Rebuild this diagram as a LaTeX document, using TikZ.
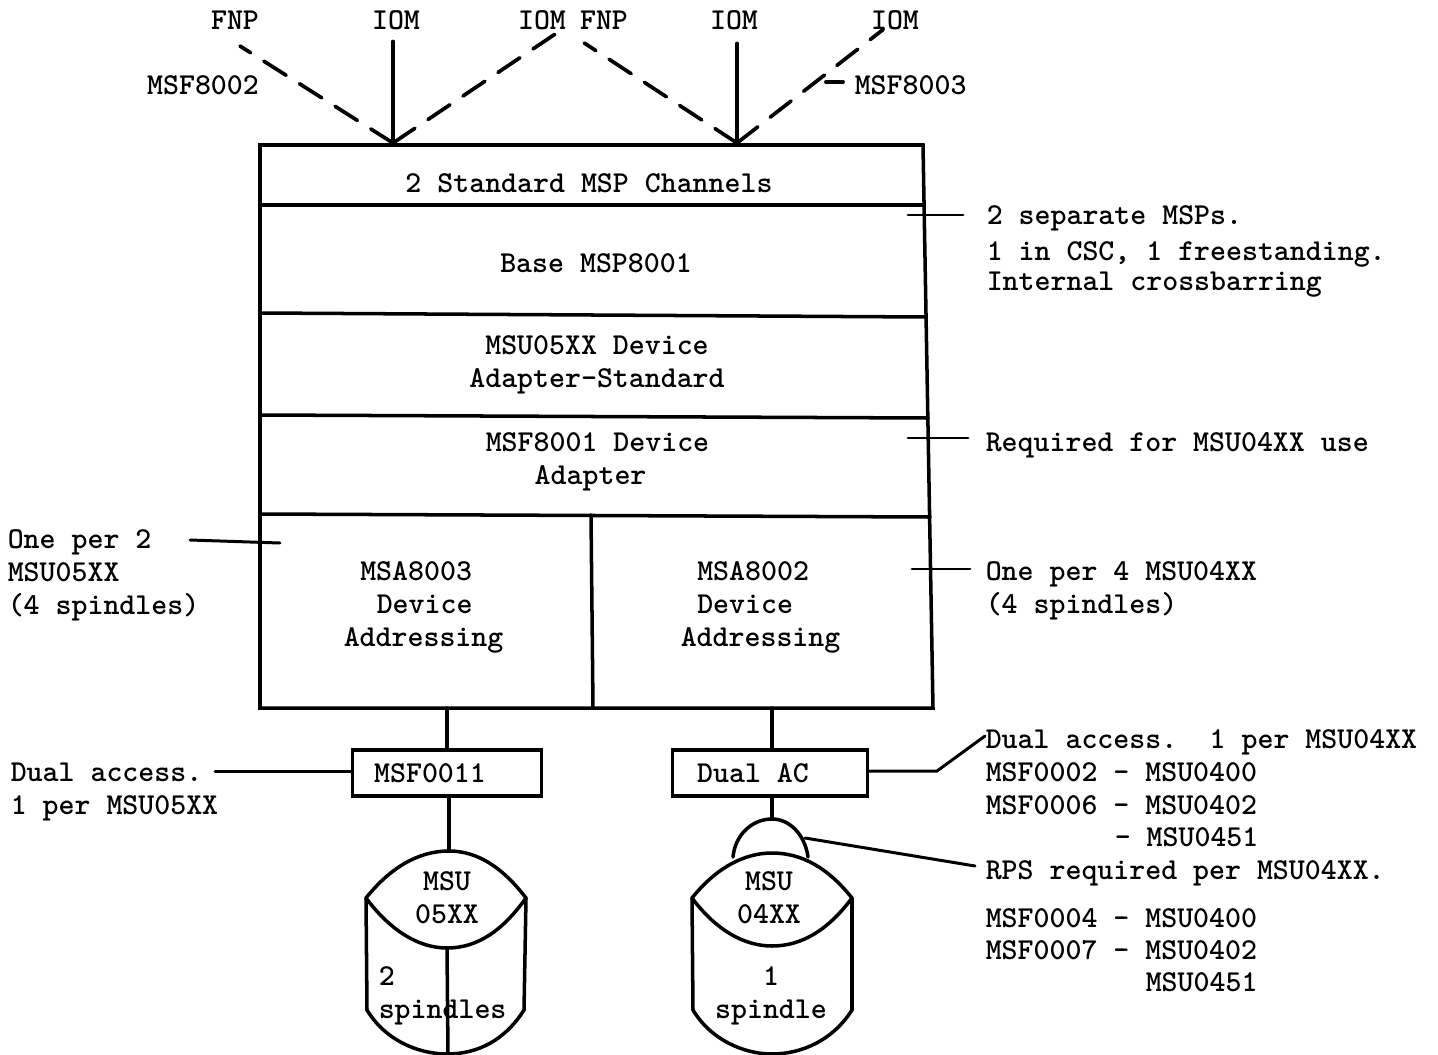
\documentclass[tikz,border=0pt]{standalone}
\usepackage{tikz}

\begin{document}
\begin{tikzpicture}[x=0.02cm, y=0.02cm, line width=2pt, line cap=round,
    txt/.style={font=\fontsize{17.3}{18.8}\selectfont\ttfamily\bfseries},
    lefttxt/.style={txt, anchor=west, align=left},
    devbox/.style={txt, draw, minimum height=0.92cm},
    feed/.style={dash pattern=on 15pt off 9pt, line width=2.1pt},
    leader/.style={line width=1.7pt}]
\tikzstyle{every node}+=[inner sep=0pt]
\useasboundingbox (0,0) rectangle (1438,-1055);
% top labels
\node [txt] (fnpa) at (235,-20) {FNP};
\node [txt] (ioma) at (396,-20) {IOM};
\node [txt] (iomb) at (542,-20) {IOM};
\node [txt] (fnpb) at (604,-20) {FNP};
\node [txt] (iomc) at (734,-20) {IOM};
\node [txt] (iomd) at (895,-20) {IOM};
\node [txt] (msfa) at (203,-85) {MSF8002};
\node [lefttxt] (msfb) at (853,-85) {MSF8003};
% main box
\coordinate (tl) at (260,-145);
\coordinate (tr) at (923,-145);
\coordinate (bl) at (260,-708);
\coordinate (br) at (933,-708);
\coordinate (tipa) at (393,-143);
\coordinate (tipb) at (737,-143);
\draw (tl) -- (tr) -- (br) -- (bl) -- cycle;
\draw (260,-205) -- (924,-205);
\draw (260,-313) -- (926,-317);
\draw (260,-415) -- (928,-418);
\draw (260,-514) -- (930,-517);
\draw (591,-515) -- (593,-708);
\node [txt] (chan) at (589,-183) {2 Standard MSP Channels};
\node [txt] (base) at (596,-263) {Base MSP8001};
\node [txt, align=center] (msu) at (597,-365) {MSU05XX Device\\Adapter-Standard};
\node [lefttxt] (adpt) at (484,-462) {MSF8001 Device\\\hspace*{.98cm}Adapter};
\node [lefttxt] (msaa) at (342,-607) {\hspace*{.33cm}MSA8003\\\hspace*{.66cm}Device\\Addressing};
\node [lefttxt] (msab) at (679,-607) {\hspace*{.33cm}MSA8002\\\hspace*{.33cm}Device\\Addressing};
% incoming lines
\draw [feed] (tipa) -- ([shift={(5,-15)}]fnpa.south);
\draw (ioma.south) ++(-3,-10) -- (tipa);
\draw [feed] (tipa) -- ([shift={(-13,-3)}]iomb.south east);
\draw [feed] (tipb) -- ([shift={(6,-12)}]fnpb.south west);
\draw (iomc.south) ++(3,-12) -- (tipb);
\draw [feed] (tipb) -- ([shift={(14,2)}]iomd.south west);
\draw [line width=2.2pt] (msfb.west) ++(-27,3) -- ++(17,0);
% notes right
\node [lefttxt] (twoa) at (985,-218) {2 separate MSPs.};
\node [lefttxt] (twob) at (985,-254) {1 in CSC, 1 freestanding.};
\node [lefttxt] (twoc) at (985,-285) {Internal crossbarring};
\node [lefttxt] (reqd) at (984,-445) {Required for MSU04XX use};
\node [lefttxt] (onefour) at (984,-591) {One per 4 MSU04XX\\(4 spindles)};
\node [lefttxt] (onetwo) at (6,-575) {One per 2\\MSU05XX\\(4 spindles)};
\node [lefttxt] (dualc) at (9,-792) {Dual access.\\1 per MSU05XX};
\coordinate (ca) at (908,-215);
\coordinate (cb) at (908,-438);
\coordinate (cc) at (912,-569);
\coordinate (cd) at (280,-543);
\draw [leader] (ca) -- (963,-215);
\draw [leader] (cb) -- (968,-438);
\draw [leader] (cc) -- (970,-569);
\draw [leader] (190,-540) -- (cd);
% device boxes
\node [devbox, minimum width=3.78cm] (msfbox) at (447,-773) {MSF0011\hspace{.68cm}\null};
\node [devbox, minimum width=3.9cm] (dualbox) at (770,-773) {Dual AC\hspace{.68cm}\null};
\coordinate (topa) at (449,-851);
\coordinate (topb) at (772,-819);
\draw (447,-708) -- (msfbox.north -| 447,0);
\draw (772,-708) -- (dualbox.north -| 772,0);
\draw (msfbox.south -| 449,0) -- (topa);
\draw (dualbox.south -| 772,0) -- (topb);
\draw [leader] (215,-771) -- (msfbox.west |- 0,-771);
\coordinate (bend) at (937,-771);
% disks
\draw (366,-898) .. controls (390,-868) and (418,-851) .. (topa) .. controls (478,-851) and (503,-868) .. (526,-898);
\draw (366,-898) .. controls (390,-930) and (418,-948) .. (447,-948) .. controls (478,-948) and (503,-930) .. (526,-898);
\draw (366,-898) -- (367,-1010) .. controls (385,-1040) and (418,-1054) .. (447,-1054) .. controls (478,-1054) and (505,-1040) .. (524,-1010) -- (526,-898);
\draw (447,-948) -- (448,-1054);
\draw (692,-898) .. controls (716,-868) and (744,-853) .. (772,-853) .. controls (802,-853) and (828,-868) .. (852,-898);
\draw (692,-898) .. controls (716,-930) and (744,-946) .. (772,-946) .. controls (802,-946) and (828,-930) .. (852,-898);
\draw (692,-898) -- (693,-1010) .. controls (711,-1040) and (744,-1054) .. (772,-1054) .. controls (802,-1054) and (833,-1040) .. (852,-1010) -- (852,-898);
\draw (733,-857) .. controls (735,-835) and (752,-819) .. (topb) .. controls (790,-819) and (805,-835) .. (808,-857);
\coordinate (dome) at (805,-838);
\node [txt, align=center] (msud) at (447,-898) {MSU\\05XX};
\node [txt, align=center] (msue) at (769,-898) {MSU\\04XX};
\node [lefttxt] (spa) at (377,-996) {2\\spindles};
\node [txt, align=center] (spb) at (771,-996) {1\\spindle};
% notes lower right
\node [lefttxt] (acca) at (984,-742) {Dual access.\hspace*{.65cm}1 per MSU04XX};
\node [lefttxt] (accb) at (984,-772) {MSF0002 - MSU0400};
\node [lefttxt] (accc) at (984,-805) {MSF0006 - MSU0402};
\node [lefttxt] (accd) at (1113,-837) {- MSU0451};
\node [lefttxt] (rps) at (984,-873) {RPS required per MSU04XX.};
\node [lefttxt] (rpsa) at (984,-918) {MSF0004 - MSU0400};
\node [lefttxt] (rpsb) at (984,-950) {MSF0007 - MSU0402};
\node [lefttxt] (rpsc) at (1144,-982) {MSU0451};
\draw [leader] (dualbox.east |- 0,-771) -- (bend) -- ([shift={(1,6)}]acca.west);
\draw [leader] (dome) -- ([shift={(-9,7)}]rps.west);
\end{tikzpicture}
\end{document}
